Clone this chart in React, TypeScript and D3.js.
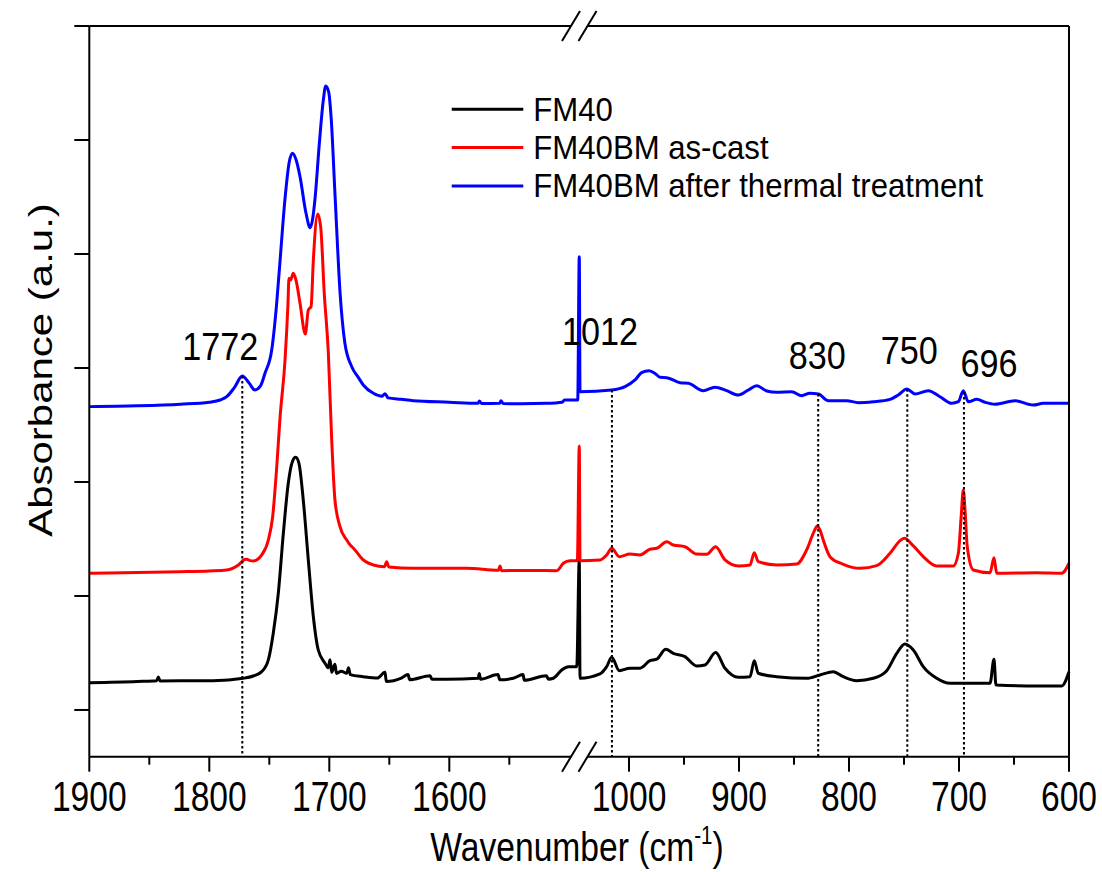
import React from "react";
import * as d3 from "d3";

type Pt = [number, number];

// FM40 (black)
const fm40: Pt[] = [
  [1900, 0.239], [1860, 0.25], [1843.8, 0.257], [1842.5, 0.29], [1841, 0.255], [1796.7, 0.257],
  [1771.7, 0.278], [1763.3, 0.298], [1756.3, 0.336], [1750.8, 0.439], [1746.7, 0.673], [1742.5, 1.024],
  [1738.3, 1.55], [1734.2, 1.989], [1730.8, 2.178], [1728, 2.217], [1725.3, 2.164], [1721.7, 1.842],
  [1717.5, 1.316], [1713.3, 0.818], [1709.2, 0.526], [1703.6, 0.41], [1701, 0.37], [1699.4, 0.44],
  [1698, 0.33], [1695.3, 0.4], [1694, 0.32], [1690, 0.34], [1685.5, 0.322], [1684, 0.37], [1682.5, 0.31],
  [1671.7, 0.292], [1660, 0.28], [1653.6, 0.33], [1652.5, 0.25], [1640, 0.28], [1634.4, 0.31],
  [1633, 0.265], [1616, 0.3], [1614.5, 0.27], [1602.2, 0.269], [1576, 0.278], [1575, 0.32], [1574, 0.27],
  [1559.4, 0.31], [1558, 0.265], [1546.7, 0.278], [1538.6, 0.31], [1537.5, 0.26], [1519, 0.3],
  [1517.5, 0.27], [1513.3, 0.278], [1506.3, 0.351], [1500.8, 0.38], [1493.8, 0.38],
  [1045.2, 1.316], [1044.5, 0.278], [1026.4, 0.316], [1020.3, 0.38], [1015.7, 0.462], [1008.8, 0.345],
  [999.1, 0.366], [990, 0.366], [980.9, 0.432], [974.8, 0.445], [966.6, 0.532], [959.7, 0.497],
  [949.1, 0.468], [938.5, 0.386], [930.9, 0.395], [921.2, 0.503], [912.7, 0.366], [900.6, 0.287],
  [890, 0.292], [886.1, 0.432], [882.5, 0.322], [865.7, 0.292], [838.5, 0.278], [826.4, 0.307],
  [814.3, 0.336], [805.2, 0.292], [793, 0.257], [777.9, 0.278], [765.7, 0.345], [756.6, 0.497],
  [749.1, 0.579], [741.5, 0.526], [732.5, 0.38], [720.3, 0.278], [708.2, 0.234], [671.8, 0.234],
  [668.2, 0.445], [666.4, 0.219], [629.4, 0.211], [606.6, 0.211], [600, 0.336],
];

// FM40BM as-cast (red)
const fm40bmCast: Pt[] = [
  [1900, 1.199], [1860, 1.206], [1824.4, 1.213], [1800, 1.22], [1785.5, 1.228], [1775.8, 1.272],
  [1770.5, 1.32], [1768.8, 1.322], [1766, 1.31], [1763.3, 1.307], [1756.3, 1.36], [1750.8, 1.491],
  [1747.2, 1.696], [1743.8, 2.134], [1741, 2.573], [1736.9, 3.07], [1734.5, 3.55], [1733.6, 3.787],
  [1732.2, 3.772], [1730, 3.831], [1727.8, 3.772], [1724.4, 3.568], [1720, 3.298], [1717.5, 3.509],
  [1715.2, 3.538], [1713.3, 3.947], [1709.7, 4.351], [1707.2, 4.24], [1704.2, 3.655], [1700.8, 3.129],
  [1698, 2.368], [1695.3, 1.842], [1691.1, 1.608], [1685.5, 1.491], [1683.5, 1.46], [1678.6, 1.404],
  [1671.7, 1.316], [1663.3, 1.272], [1654, 1.257], [1652.2, 1.301], [1650.5, 1.255], [1630, 1.243],
  [1585.5, 1.243], [1559, 1.226], [1557.8, 1.262], [1556.5, 1.222], [1530, 1.224], [1510.5, 1.222],
  [1505, 1.287], [1499.4, 1.31], [1493.3, 1.31],
  [1045.2, 2.316], [1044.5, 1.31], [1026.4, 1.316], [1020.3, 1.36], [1015.7, 1.418], [1008.8, 1.345],
  [999.1, 1.368], [990, 1.36], [980.9, 1.41], [974.8, 1.418], [965.7, 1.476], [959.7, 1.447],
  [949.1, 1.432], [938.5, 1.368], [929.4, 1.366], [921.2, 1.432], [912.7, 1.316], [900.6, 1.263],
  [890, 1.272], [886.1, 1.38], [882.5, 1.301], [865.7, 1.272], [847.5, 1.281], [838.5, 1.404],
  [832, 1.56], [828.8, 1.614], [826, 1.57], [823.4, 1.491], [817.3, 1.345], [805.2, 1.278],
  [790, 1.243], [774.8, 1.266], [762.7, 1.375], [753, 1.49], [749.7, 1.506], [741.5, 1.439],
  [732.5, 1.345], [720.3, 1.263], [705.2, 1.263], [700.6, 1.375], [698, 1.7], [696.1, 1.93],
  [694.5, 1.75], [692.5, 1.432], [687, 1.228], [671.8, 1.204], [668.2, 1.336], [665.7, 1.199],
  [629.4, 1.204], [606.6, 1.199], [600, 1.287],
];

// FM40BM after thermal treatment (blue)
const fm40bmThermal: Pt[] = [
  [1900, 2.661], [1860, 2.668], [1824, 2.682], [1800, 2.7], [1791, 2.719], [1785.5, 2.748],
  [1779, 2.83], [1772.5, 2.93], [1767, 2.87], [1762, 2.807], [1757.5, 2.84], [1753.6, 2.954],
  [1748, 3.158], [1744, 3.55], [1741, 3.947], [1737, 4.474], [1733.5, 4.8], [1730.8, 4.883],
  [1727.5, 4.82], [1724.4, 4.678], [1719.4, 4.357], [1716, 4.231], [1714, 4.3], [1712, 4.474],
  [1708.3, 4.971], [1705, 5.35], [1703, 5.474], [1700.5, 5.42], [1698.5, 5.2], [1695.3, 4.532],
  [1691, 3.655], [1687, 3.217], [1681.3, 3.011], [1676, 2.92], [1671.7, 2.851], [1663.3, 2.778],
  [1656, 2.752], [1653.6, 2.775], [1651, 2.738], [1640, 2.725], [1630, 2.713], [1600, 2.7],
  [1576, 2.69], [1575, 2.71], [1573, 2.688], [1558, 2.69], [1557, 2.712], [1555, 2.688],
  [1540, 2.686], [1519, 2.69], [1506, 2.7], [1504, 2.72], [1493, 2.719],
  [1045.2, 3.976], [1044.5, 2.792], [1015.7, 2.807], [1003.6, 2.836], [994.5, 2.895], [988.5, 2.959],
  [981.8, 2.976], [976, 2.95], [971.8, 2.918], [965.7, 2.915], [953.6, 2.871], [946.1, 2.866],
  [932.5, 2.801], [921.8, 2.831], [911.2, 2.801], [900.6, 2.763], [891.5, 2.807], [883.9, 2.845],
  [874.8, 2.798], [865.7, 2.787], [852.1, 2.792], [843, 2.757], [835.5, 2.778], [827.9, 2.772],
  [818.8, 2.713], [802.1, 2.713], [791.5, 2.696], [777.9, 2.704], [762.7, 2.725], [755.2, 2.763],
  [747.5, 2.816], [740, 2.772], [727.9, 2.801], [717.3, 2.748], [706.6, 2.69], [700.6, 2.704],
  [696.1, 2.801], [691.5, 2.704], [683.9, 2.725], [676.4, 2.699], [667.3, 2.682], [649.1, 2.713],
  [632.5, 2.675], [623.4, 2.69], [600, 2.69],
];

const seriesNames = ["FM40", "FM40BM as-cast", "FM40BM after thermal treatment"];
const seriesColors = ["#000000", "#ff0000", "#0000ff"];
const seriesData = [fm40, fm40bmCast, fm40bmThermal];

const leftMajor = [1900, 1800, 1700, 1600];
const leftMinor = [1850, 1750, 1650, 1550];
const rightMajor = [1000, 900, 800, 700, 600];
const rightMinor = [950, 850, 750, 650];
const yTicks = [0, 1, 2, 3, 4, 5, 6];

const peakLabels = ["1772", "1012", "830", "750", "696"];
const peakPositions = [1772.5, 1015.5, 828, 747, 695.5];
// label layout (offset from line, baseline)
const peakLabelDx = [-22, -12, -1, 2, 25];
const peakLabelY = [360, 345, 369, 364, 377];

const FONT = "'Liberation Sans', Arial, Helvetica, sans-serif";

function interp(data: Pt[], w: number): number {
  for (let i = 0; i < data.length - 1; i++) {
    const a = data[i], b = data[i + 1];
    if (a[0] >= w && b[0] <= w) {
      const t = (a[0] - w) / (a[0] - b[0] || 1);
      return a[1] + t * (b[1] - a[1]);
    }
  }
  return data[data.length - 1][1];
}

export default function App() {
  const W = 1102, H = 872;
  const L = 89.3, R = 1069, T = 26, B = 756.7;
  const xL = d3.scaleLinear().domain([1900, 1492.6]).range([L, 578.2]);
  const xR = d3.scaleLinear().domain([1045.9, 600]).range([578.5, R]);
  const xp = (w: number) => (w > 1200 ? xL(w) : xR(w));
  const y = d3.scaleLinear().domain([-0.41, 6]).range([B, T]);
  const line = d3
    .line<Pt>()
    .x((d) => xp(d[0]))
    .y((d) => y(d[1]))
    .curve(d3.curveMonotoneX);

  const brk1 = 571, brk2 = 587.5;
  const slash = (cx: number, cy: number) => `M${cx - 9},${cy + 15}L${cx + 9},${cy - 15}`;

  const axisSx = 0.8;

  return (
    <div style={{ position: "absolute", left: 0, top: 0 }}>
      <svg width={W} height={H} style={{ display: "block", background: "#fff" }} fontFamily={FONT}>
        <rect x={0} y={0} width={W} height={H} fill="#fff" />
        {seriesData.map((d, i) => (
          <path key={i} d={line(d) || ""} fill="none" stroke={seriesColors[i]} strokeWidth={3} strokeLinejoin="round" />
        ))}
        {peakPositions.map((w, i) => (
          <line key={i} x1={xp(w)} x2={xp(w)} y1={y(interp(fm40bmThermal, w))} y2={B}
            stroke="#000" strokeWidth={2} strokeDasharray="2.5,2.5" />
        ))}
        {peakLabels.map((t, i) => (
          <text key={i} transform={`translate(${xp(peakPositions[i]) + peakLabelDx[i]},${peakLabelY[i]}) scale(0.9,1)`}
            textAnchor="middle" fontSize={38} fill="#000">{t}</text>
        ))}
        <g stroke="#000" strokeWidth={2} fill="none">
          <line x1={L} x2={L} y1={T} y2={B} />
          <line x1={R} x2={R} y1={T} y2={B} />
          <line x1={L} x2={brk1} y1={T} y2={T} />
          <line x1={brk2} x2={R} y1={T} y2={T} />
          <line x1={L} x2={brk1} y1={B} y2={B} />
          <line x1={brk2} x2={R} y1={B} y2={B} />
          <path d={slash(brk1, T)} />
          <path d={slash(brk2, T)} />
          <path d={slash(brk1, B)} />
          <path d={slash(brk2, B)} />
          {yTicks.map((v) => (
            <line key={v} x1={L - 15} x2={L} y1={y(v)} y2={y(v)} />
          ))}
          {leftMajor.map((v) => (
            <line key={"lM" + v} x1={xL(v)} x2={xL(v)} y1={B} y2={B + 15} />
          ))}
          {leftMinor.map((v) => (
            <line key={"lm" + v} x1={xL(v)} x2={xL(v)} y1={B} y2={B + 8} />
          ))}
          {rightMajor.map((v) => (
            <line key={"rM" + v} x1={xR(v)} x2={xR(v)} y1={B} y2={B + 15} />
          ))}
          {rightMinor.map((v) => (
            <line key={"rm" + v} x1={xR(v)} x2={xR(v)} y1={B} y2={B + 8} />
          ))}
        </g>
        {leftMajor.map((v) => (
          <text key={"tl" + v} transform={`translate(${xL(v)},811) scale(${axisSx},1)`} textAnchor="middle" fontSize={42}>{v}</text>
        ))}
        {rightMajor.map((v) => (
          <text key={"tr" + v} transform={`translate(${xR(v)},811) scale(${axisSx},1)`} textAnchor="middle" fontSize={42}>{v}</text>
        ))}
        <text transform={`translate(577,861) scale(0.82,1)`} textAnchor="middle" fontSize={41}>
          Wavenumber (cm<tspan fontSize={25} dy={-17}>-1</tspan><tspan dy={17}>)</tspan>
        </text>
        <text transform={`translate(52,370) rotate(-90) scale(1,${axisSx})`} textAnchor="middle" fontSize={42}>
          Absorbance (a.u.)
        </text>
        {seriesNames.map((n, i) => (
          <g key={n}>
            <line x1={451.7} x2={523.3} y1={109.3 + i * 38.3} y2={109.3 + i * 38.3} stroke={seriesColors[i]} strokeWidth={3} />
            <text transform={`translate(533.3,${120.5 + i * 38.3}) scale(0.93,1)`} fontSize={33.5}>{n}</text>
          </g>
        ))}
      </svg>
    </div>
  );
}
